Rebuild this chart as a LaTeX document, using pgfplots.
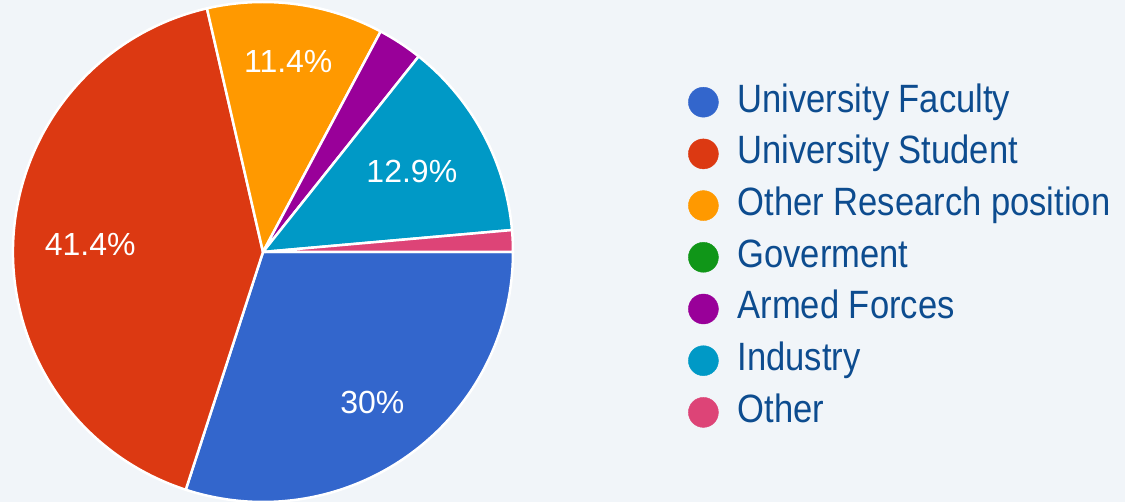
\documentclass[border=0pt]{standalone}
\usepackage{pgfplots}
\pgfplotsset{compat=1.18}
\usepackage{fontspec}
\setmainfont{Liberation Sans}
\newfontfamily\legfont[FakeStretch=0.875]{Liberation Sans}
\definecolor{bg}{HTML}{F1F5F9}
\definecolor{cFac}{HTML}{3366CC}
\definecolor{cStu}{HTML}{DC3912}
\definecolor{cOR}{HTML}{FF9900}
\definecolor{cGov}{HTML}{109618}
\definecolor{cAF}{HTML}{990099}
\definecolor{cInd}{HTML}{0099C6}
\definecolor{cOth}{HTML}{DD4477}
\definecolor{legtext}{HTML}{0D4C8F}
\tikzset{pielabel/.style={text=white, font=\fontsize{32}{34}\selectfont, inner sep=0pt}}
\begin{document}
\begin{tikzpicture}
\begin{axis}[
  width=1125pt, height=502pt, scale only axis,
  xmin=0, xmax=1125, ymin=0, ymax=502,
  hide axis, clip=false,
  legend image code/.code={\fill[#1] (15pt,0pt) circle[radius=15pt];},
  legend cell align=left,
  legend style={at={(axis cs:688,419)}, anchor=north west, draw=none, fill=none,
    inner sep=0pt, row sep=13.7pt, column sep=19pt,
    font=\legfont\fontsize{39.5}{40}\selectfont, text=legtext,
    nodes={inner sep=0pt, text height=29pt, text depth=9pt}},
]
\fill[bg] (axis cs:0,0) rectangle (axis cs:1125,502);
\gdef\cum{0}%
\foreach \v/\c/\lab/\d in {30/cFac/30\%/186, 41.4/cStu/41.4\%/173, 11.4/cOR/11.4\%/192, 0/cGov//0, 2.9/cAF//0, 12.9/cInd/12.9\%/169, 1.4/cOth//0}{%
  \pgfmathsetmacro{\a}{-3.6*\cum}%
  \pgfmathsetmacro{\b}{-3.6*(\cum+\v)}%
  \pgfmathsetmacro{\m}{(\a+\b)/2}%
  \pgfmathsetmacro{\lx}{263+\d*cos(\m)}%
  \pgfmathsetmacro{\ly}{250+\d*sin(\m)}%
  \ifdim\v pt>0pt
    \edef\tmp{\noexpand\fill[\c, draw=white, line width=2.5pt, line join=round] (axis cs:263,250) -- ++(\a:250pt) arc[start angle=\a, end angle=\b, radius=250pt] -- cycle;}%
    \tmp
  \fi
  \ifdim\d pt>0pt
    \edef\tmp{\noexpand\node[pielabel] at (axis cs:\lx,\ly) {\lab};}%
    \tmp
  \fi
  \pgfmathsetmacro{\newcum}{\cum+\v}%
  \xdef\cum{\newcum}%
}
\addlegendimage{cFac}
\addlegendimage{cStu}
\addlegendimage{cOR}
\addlegendimage{cGov}
\addlegendimage{cAF}
\addlegendimage{cInd}
\addlegendimage{cOth}
\legend{University Faculty, University Student, Other Research position, Goverment, Armed Forces, Industry, Other}
\end{axis}
\pgfresetboundingbox
\path[use as bounding box] (current axis.south west) rectangle (current axis.north east);
\end{tikzpicture}
\end{document}
